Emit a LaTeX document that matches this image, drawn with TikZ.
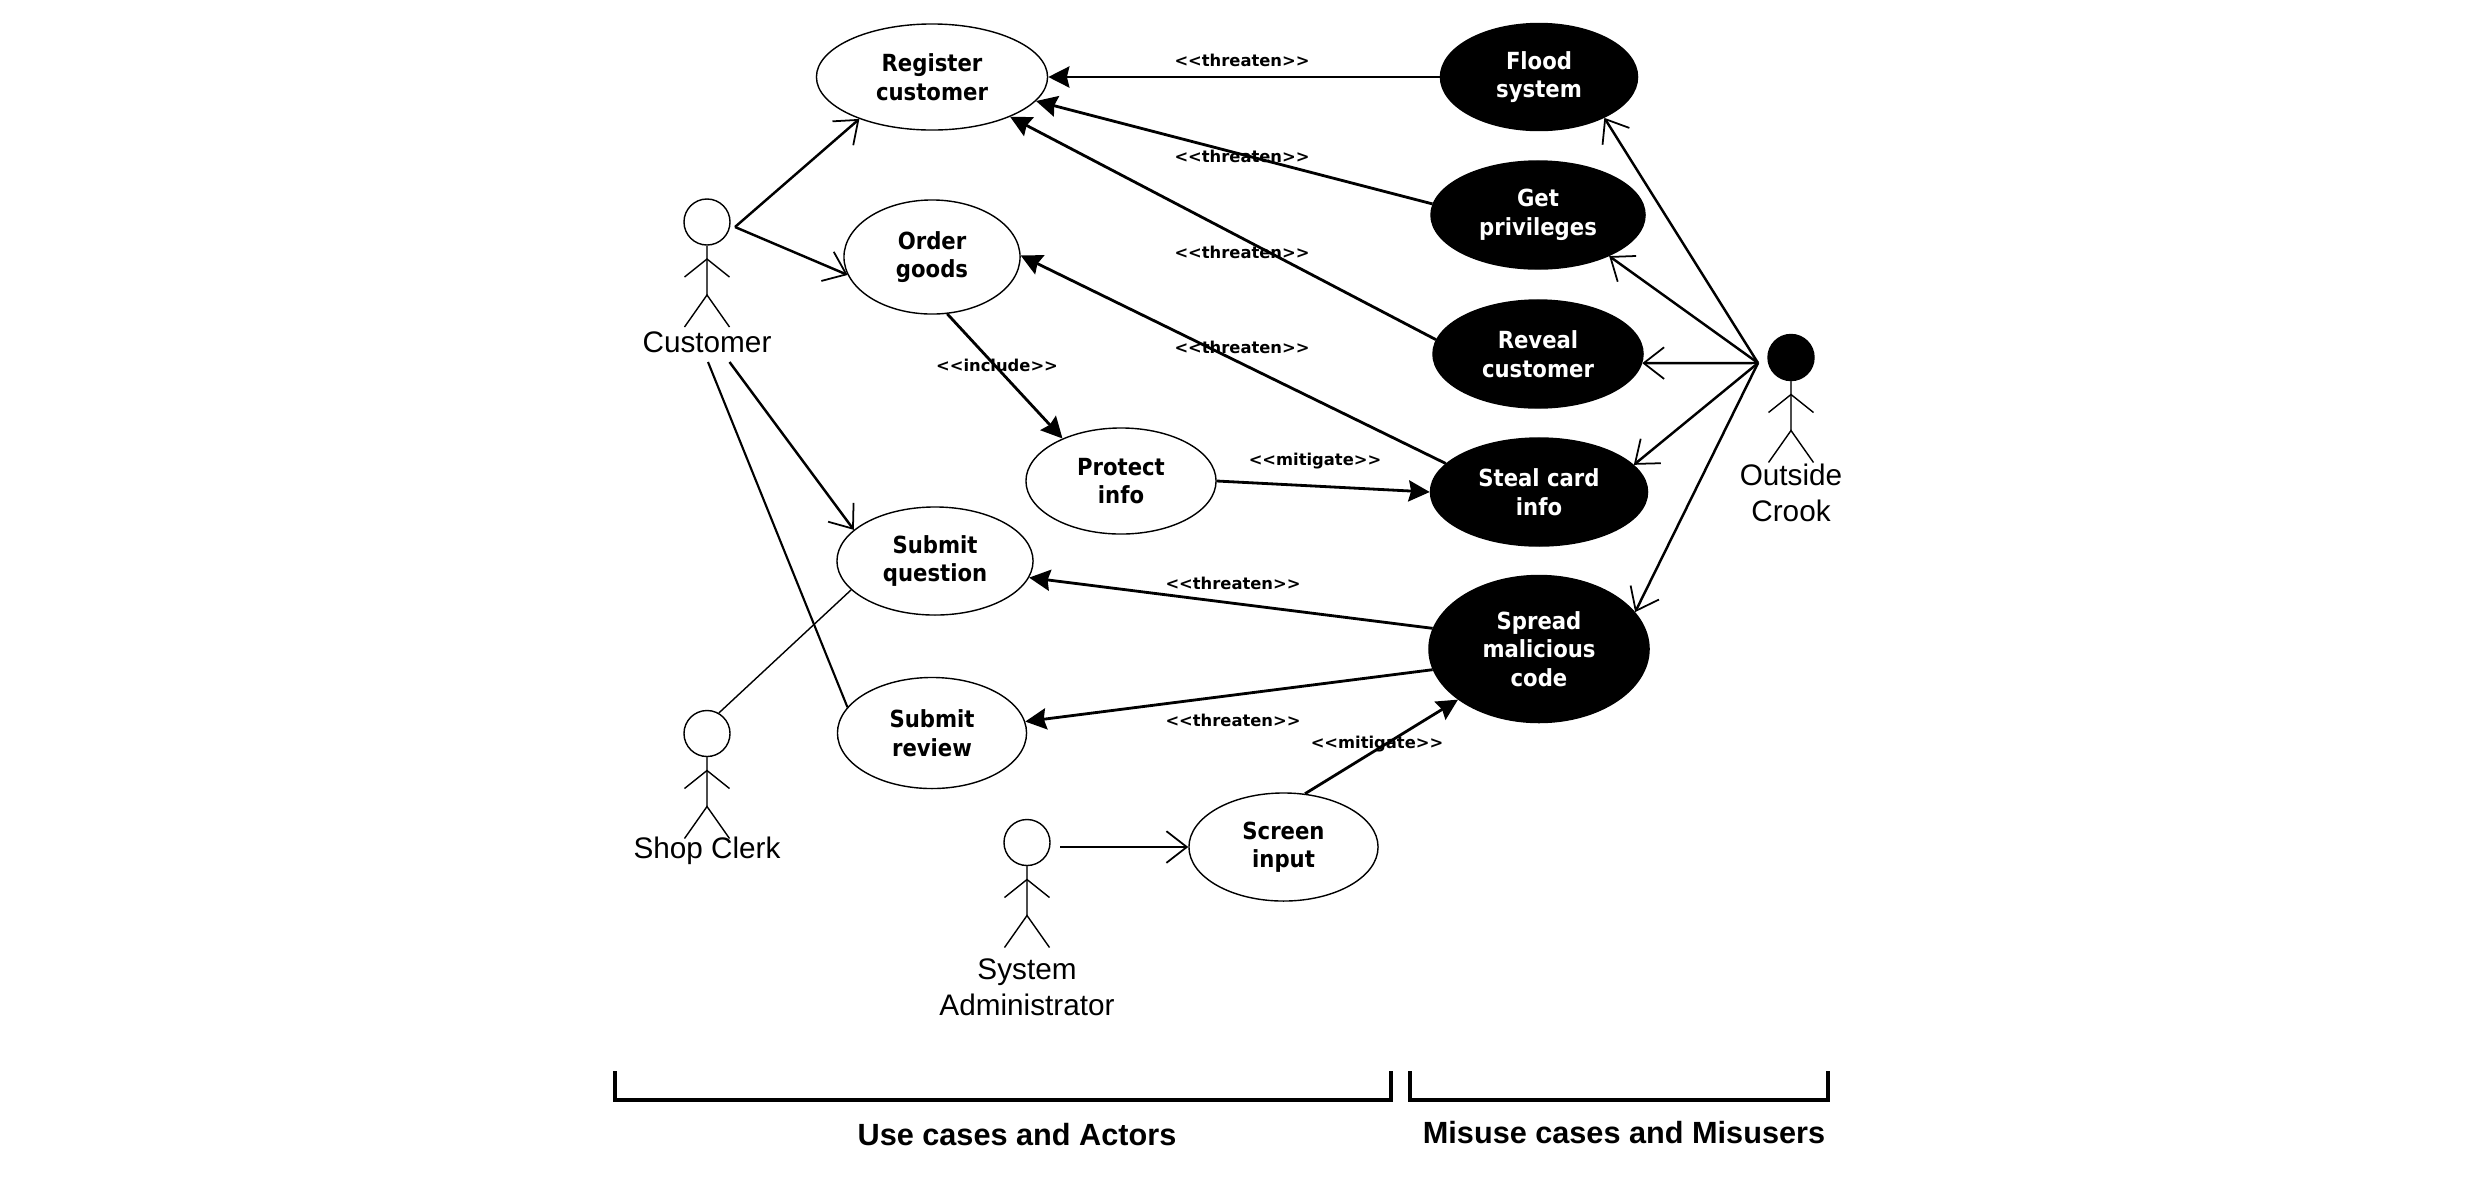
\documentclass[tikz,border=0pt]{standalone}
\usepackage{fontspec}
\setmainfont{Liberation Sans}
\newfontfamily\casefont{DejaVu Sans Condensed}
\newfontfamily\stereofont[Ligatures=ResetAll]{DejaVu Sans}
\usetikzlibrary{shapes.geometric, arrows.meta}
\tikzset{
  usecase/.style={ellipse,draw=black,line width=0.4pt,inner sep=0pt,align=center,
    font=\casefont\bfseries\fontsize{6.7}{8.1}\selectfont},
  misuse/.style={usecase,fill=black,text=white},
  actorlabel/.style={align=center,inner sep=0pt,font=\fontsize{8.45}{10.2}\selectfont},
  stereo/.style={inner sep=0pt,font=\stereofont\bfseries\fontsize{4.65}{5.6}\selectfont},
  grouplabel/.style={inner sep=0pt,font=\bfseries\fontsize{8.72}{10}\selectfont},
  assoc/.style={line width=0.7pt,-{Straight Barb[length=5.8pt,width=9pt,line width=0.5pt]}},
  plainlink/.style={line width=0.6pt},
  threat/.style={line width=0.8pt,-{Stealth[length=6pt,width=6pt,inset=0.7pt]}},
  bracket/.style={line width=1pt,line cap=butt,line join=miter},
  limb/.style={line width=0.4pt},
}
\begin{document}
\begin{tikzpicture}
  [x=0.01cm,y=-0.01cm]
  \useasboundingbox (0,0) rectangle (2482,1184);
  % use cases
  \node[usecase,minimum width=2.31cm,minimum height=1.06cm] (register) at (932,77) {Register\\customer};
  \node[usecase,minimum width=1.76cm,minimum height=1.14cm] (order) at (932,257) {Order\\goods};
  \node[usecase,minimum width=1.90cm,minimum height=1.06cm] (protect) at (1121,481) {Protect\\info};
  \node[usecase,minimum width=1.96cm,minimum height=1.08cm] (question) at (935,561) {Submit\\question};
  \node[usecase,minimum width=1.89cm,minimum height=1.11cm] (review) at (932,733) {Submit\\review};
  \node[usecase,minimum width=1.89cm,minimum height=1.08cm] (screen) at (1283.5,847) {Screen\\input};
  % misuse cases
  \node[misuse,minimum width=1.97cm,minimum height=1.07cm] (flood) at (1539,77) {Flood\\system};
  \node[misuse,minimum width=2.14cm,minimum height=1.08cm] (privileges) at (1538,215) {Get\\privileges};
  \node[misuse,minimum width=2.10cm,minimum height=1.08cm] (reveal) at (1538,354) {Reveal\\customer};
  \node[misuse,minimum width=2.17cm,minimum height=1.08cm] (steal) at (1539,492) {Steal card\\info};
  \node[misuse,minimum width=2.20cm,minimum height=1.47cm] (spread) at (1539,649) {Spread\\malicious\\code};
  % actors
  \foreach \name/\x/\y/\col in {customer/707/222/white,clerk/707/733.5/white,admin/1027/842.5/white,crook/1791/357.5/black} {
      \node[circle,draw=black,fill=\col,limb,minimum size=0.46cm,inner sep=0pt] (\name) at (\x,\y) {};
      \draw[limb,black!70] (\name.south) -- (\x,\y+73);
      \draw[limb] (\x-22.5,\y+55) -- (\x,\y+37) -- (\x+22.5,\y+55);
      \draw[limb] (\x-22.5,\y+105) -- (\x,\y+73) -- (\x+22.5,\y+105);
  }
  \node[actorlabel] (customerlabel) at (707,342) {Customer};
  \node[actorlabel] (clerklabel) at (707,851) {Shop Clerk};
  \node[actorlabel] (adminlabel) at (1027,987) {System\\Administrator};
  \node[actorlabel] (crooklabel) at (1791,493) {Outside\\Crook};
  \coordinate (customerout) at (735,227);
  \coordinate (customerfoot) at (729.5,362);
  \coordinate (customerleg) at (708,362);
  \coordinate (adminout) at (1060,847);
  \coordinate (crookout) at (1758,363);
  % actor links
  \draw[assoc] (customerout) -- (register.210.3);
  \draw[assoc] (customerout) -- (order.192);
  \draw[assoc] (customerfoot) -- (question.159.3);
  \draw[plainlink] (customerleg) -- (review.163.2);
  \draw[plainlink,line width=0.4pt] (clerk.60) -- (question.199);
  \draw[assoc] (adminout) -- (screen.180);
  \foreach \target/\ang in {flood/-32.3,privileges/-30.3,reveal/-5,steal/16,spread/21} {
      \draw[assoc] (crookout) -- (\target.\ang);
  }
  % threaten, include and mitigate
  \draw[threat] (flood.180) -- (register.0);
  \draw[threat] (privileges.174) -- (register.-13.6);
  \draw[threat] (reveal.172.3) -- (register.-27.8);
  \draw[threat] (steal.163.2) -- (order.1.3);
  \draw[threat] (spread.169.6) -- (question.-10.4);
  \draw[threat] (spread.191.4) -- (review.7.3);
  \draw[threat] (order.-75.3) -- (protect.144.2);
  \draw[threat] (protect.0) -- (steal.180);
  \draw[threat] (screen.68.3) -- (spread.212);
  \foreach \y [count=\i] in {60,156,252,347} {
      \node[stereo] (threaten\i) at (1242,\y) {<<threaten>>};
  }
  \node[stereo] (threaten5) at (1233,583) {<<threaten>>};
  \node[stereo] (threaten6) at (1233,720.5) {<<threaten>>};
  \node[stereo] (include) at (997,365) {<<include>>};
  \node[stereo] (mitigate1) at (1315,461) {<<mitigate>>};
  \node[stereo] (mitigate2) at (1377,744.5) {<<mitigate>>};
  % groups
  \draw[bracket] (615,1071) -- (615,1100) -- (1391,1100) -- (1391,1071);
  \draw[bracket] (1410,1071) -- (1410,1100) -- (1828,1100) -- (1828,1071);
  \node[grouplabel] (usegroup) at (1017,1135) {Use cases and Actors};
  \node[grouplabel] (misusegroup) at (1624,1133) {Misuse cases and Misusers};
\end{tikzpicture}
\end{document}
